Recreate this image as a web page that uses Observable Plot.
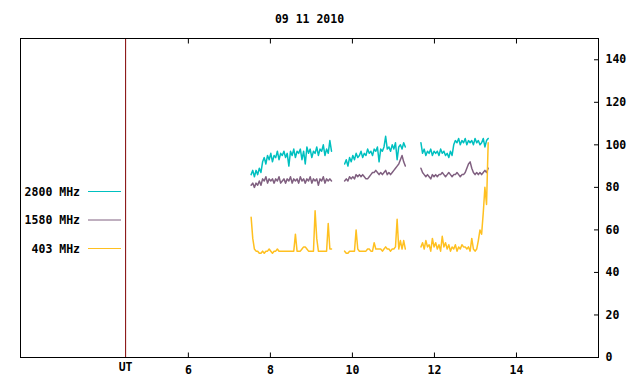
<!DOCTYPE html>
<html><head>
<meta charset="utf-8">
<script src="https://cdn.jsdelivr.net/npm/d3@7"></script>
<script src="https://cdn.jsdelivr.net/npm/@observablehq/plot@0.6"></script>
<style>body{margin:0;background:#fff}</style>
</head><body><div id="chart"></div>
<script>
const title = "09 11 2010";
const seriesNames = ["2800 MHz", "1580 MHz", "403 MHz"];
const seriesColors = ["#00c0c0", "#806080", "#ffc020"];
const utLine = 4.47;
const xTicks = [6, 8, 10, 12, 14];
const yTicks = [0, 20, 40, 60, 80, 100, 120, 140];
// observation segments: start time (UT hours) and sampling step
const segStarts = [7.53, 9.81, 11.67];
const sampleStep = 0.04;

const f2800 = [
  [86,88,85,88,86,89,87,92,94,91,95,93,96,92,95,94,97,93,96,95,97,94,96,90,97,95,98,94,97,96,98,93,97,91,99,96,98,94,97,96,99,95,98,97,100,95,98,96,102,97],
  [91,93,90,94,92,95,93,96,94,95,97,94,96,95,98,96,97,95,98,97,99,92,98,97,99,104,98,99,97,100,98,101,93,99,100,98,101,99],
  [101,96,98,95,97,96,98,95,97,96,97,95,98,96,97,95,96,94,97,95,100,102,101,103,100,102,101,103,100,102,101,102,100,103,101,102,100,101,103,99,102,103]
];
const f1580 = [
  [81,82,80,82,81,83,81,84,83,85,82,84,83,84,82,84,83,85,82,83,84,82,84,83,85,82,84,83,84,82,85,83,84,82,84,83,85,82,84,83,84,81,84,83,85,82,84,83,84,83],
  [83,84,83,85,84,85,84,86,85,86,85,86,85,84,84,85,86,87,87,88,87,86,87,86,87,88,86,87,86,87,88,89,90,91,93,95,92,90],
  [89,87,86,85,86,85,84,86,85,86,85,86,86,87,86,85,86,87,86,85,86,86,87,86,85,86,86,87,89,91,92,89,87,86,87,86,87,86,87,88,87,89]
];
const f403 = [
  [66,56,51,50,50,49,49,50,49,50,50,51,50,49,50,50,51,50,50,50,50,50,50,50,50,50,50,58,50,50,50,51,52,52,51,50,50,50,50,69,56,50,50,50,50,50,50,63,51,51],
  [50,49,49,50,50,50,50,60,51,50,50,50,50,50,51,51,50,50,54,51,51,51,51,50,51,52,51,51,50,51,51,52,65,51,55,51,55,51],
  [52,54,51,55,52,53,50,56,52,54,51,53,50,57,52,54,51,53,50,52,51,53,50,52,51,53,52,52,51,52,50,56,51,50,51,55,60,58,68,80,72,101]
];
const allSeries = [f2800, f1580, f403];

function rows(segs) {
  const out = [];
  segs.forEach((vals, k) => {
    vals.forEach((v, i) => out.push({t: segStarts[k] + i * sampleStep, v}));
    out.push({t: segStarts[k] + vals.length * sampleStep, v: NaN});
  });
  return out;
}

const font = "DejaVu Sans Mono";
const plot = Plot.plot({
  width: 640, height: 384,
  marginTop: 38, marginBottom: 27, marginLeft: 20, marginRight: 42,
  x: {domain: [1.907, 16]},
  y: {domain: [0, 150]},
  style: {fontFamily: font, fontSize: "11.5px", fontWeight: "bold", color: "#000", background: "#fff"},
  marks: [
    Plot.ruleX([utLine], {stroke: "#800000"}),
    ...allSeries.map((s, j) => Plot.line(rows(s), {x: "t", y: "v", stroke: seriesColors[j], strokeWidth: 1.5})),
    Plot.frame({stroke: "#000"}),
    Plot.axisX(xTicks, {anchor: "bottom", tickSize: -4.5, text: null, label: null}),
    Plot.axisX(xTicks, {anchor: "top", tickSize: -4.5, text: null, label: null}),
    Plot.axisX(xTicks, {anchor: "bottom", tickSize: 0, tickPadding: 8, label: null}),
    Plot.axisX([utLine], {anchor: "bottom", tickSize: 0, tickPadding: 5, tickFormat: () => "UT", label: null}),
    Plot.axisY(yTicks, {anchor: "right", tickSize: -5, text: null, label: null}),
    Plot.axisY(yTicks, {anchor: "right", tickSize: 0, tickPadding: 7, label: null}),
    Plot.text([title], {frameAnchor: "top", lineAnchor: "middle", dy: -19})
  ]
});
document.getElementById("chart").appendChild(plot);

// legend in left panel
const svg = d3.select(plot);
const lg = svg.append("g").attr("font-family", font).attr("font-size", "11.5px").attr("font-weight", "bold");
seriesNames.forEach((name, j) => {
  const y = 191.5 + j * 28.5;
  lg.append("text").attr("x", 80).attr("y", y).attr("dy", "0.35em").attr("text-anchor", "end").attr("fill", "#000").text(name);
  lg.append("line").attr("x1", 88).attr("x2", 121).attr("y1", y).attr("y2", y).attr("stroke", seriesColors[j]);
});
</script>
</body></html>
